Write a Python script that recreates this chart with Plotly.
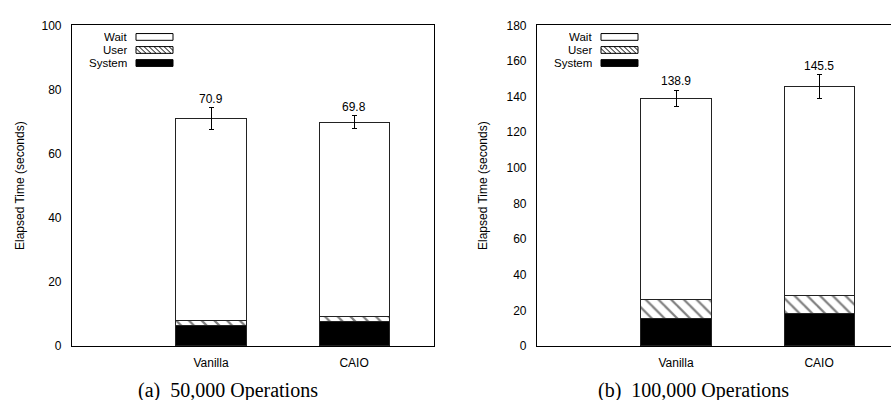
import plotly.graph_objects as go

# Elapsed time breakdown (seconds)
categories = ["Vanilla", "CAIO"]

system_50k = [6.3, 7.6]
user_50k = [1.7, 1.5]
total_50k = [70.9, 69.8]
err_50k = [3.4, 2.0]

system_100k = [15.3, 18.1]
user_100k = [10.6, 10.5]
total_100k = [138.9, 145.5]
err_100k = [4.7, 6.7]

captions = ["(a)  50,000 Operations", "(b)  100,000 Operations"]
y_max = [100, 180]
y_step = [20, 20]

W, H = 891, 408
SANS = "Liberation Sans, Arial, sans-serif"
SERIF = "Liberation Serif, Times New Roman, serif"


def px(x):
    return x / W


def py(y):
    return 1 - y / H


fig = go.Figure()

panels = [
    dict(system=system_50k, user=user_50k, total=total_50k, err=err_50k,
         xa="x", ya="y", xr=(-0.972, 1.559),
         leg_text_x=129, leg_box=(136, 173), cap_x=228),
    dict(system=system_100k, user=user_100k, total=total_100k, err=err_100k,
         xa="x2", ya="y2", xr=(-0.972, 1.503),
         leg_text_x=594, leg_box=(601, 638), cap_x=693),
]

bar_line = dict(color="#222", width=1)
bar_width = 0.49

shapes = []
annotations = []

for i, p in enumerate(panels):
    wait = [round(t - s - u, 2) for t, s, u in zip(p["total"], p["system"], p["user"])]
    common = dict(x=categories, xaxis=p["xa"], yaxis=p["ya"], width=bar_width,
                  showlegend=False, hoverinfo="skip")
    fig.add_trace(go.Bar(y=p["system"], name="System",
                         marker=dict(color="black", line=bar_line), **common))
    fig.add_trace(go.Bar(y=p["user"], name="User",
                         marker=dict(color="white", line=bar_line,
                                     pattern=dict(shape="\\", fgcolor="black",
                                                  bgcolor="white", size=9,
                                                  solidity=0.25)),
                         **common))
    fig.add_trace(go.Bar(y=wait, name="Wait",
                         marker=dict(color="white", line=bar_line),
                         error_y=dict(type="data", array=p["err"], color="black",
                                      thickness=1, width=2.5),
                         **common))

    # total labels above the error bars
    for c, t, e in zip(categories, p["total"], p["err"]):
        annotations.append(dict(x=c, y=t + e, xref=p["xa"], yref=p["ya"],
                                text=f"{t:.1f}", showarrow=False,
                                yanchor="bottom", yshift=0,
                                font=dict(family=SANS, size=12, color="black")))

    # legend (label on the left, key on the right)
    rows = [("Wait", 31), ("User", 44.5), ("System", 58)]
    x0, x1 = p["leg_box"]
    for label, yc in rows:
        annotations.append(dict(x=px(p["leg_text_x"]), y=py(yc), xref="paper",
                                yref="paper", text=label, showarrow=False,
                                xanchor="right", yanchor="middle", height=12,
                                font=dict(family=SANS, size=11.5, color="black")))
        y0, y1 = yc - 3.5, yc + 3.5
        if label == "System":
            shapes.append(dict(type="rect", xref="paper", yref="paper",
                               x0=px(x0), x1=px(x1), y0=py(y1), y1=py(y0),
                               fillcolor="black", line=dict(color="black", width=1)))
        else:
            shapes.append(dict(type="rect", xref="paper", yref="paper",
                               x0=px(x0), x1=px(x1), y0=py(y1), y1=py(y0),
                               fillcolor="white", line=dict(color="black", width=1)))
            if label == "User":
                hh = y1 - y0
                xs = x0 - hh
                while xs < x1:
                    a, b = xs, xs + hh
                    ya0, yb1 = y0, y1
                    if a < x0:
                        ya0 = y0 + (x0 - a)
                        a = x0
                    if b > x1:
                        yb1 = y1 - (b - x1)
                        b = x1
                    shapes.append(dict(type="line", xref="paper", yref="paper",
                                       x0=px(a), y0=py(ya0), x1=px(b), y1=py(yb1),
                                       line=dict(color="black", width=1)))
                    xs += 5

    annotations.append(dict(x=px(p["cap_x"]), y=py(397), xref="paper", yref="paper",
                            text=captions[i], showarrow=False, height=20,
                            xanchor="center", yanchor="middle",
                            font=dict(family=SERIF, size=20, color="black")))

y_dom = [py(351), py(19)]
axis_font = dict(family=SANS, size=12, color="black")

fig.update_layout(
    width=W, height=H,
    margin=dict(l=0, r=0, t=0, b=0),
    paper_bgcolor="white", plot_bgcolor="white",
    barmode="stack",
    shapes=shapes, annotations=annotations,
    xaxis=dict(domain=[px(72), px(434)], range=list(panels[0]["xr"]),
               anchor="y", showline=True, mirror=True, linecolor="black",
               linewidth=1.2, showgrid=False, ticks="", tickfont=axis_font,
               ticklabelstandoff=6, zeroline=False),
    yaxis=dict(domain=y_dom, range=[0, y_max[0]], dtick=y_step[0], anchor="x",
               showline=True, mirror=True, linecolor="black", linewidth=1.2,
               showgrid=False, ticks="", tickfont=axis_font, zeroline=False,
               ticklabelstandoff=7,
               title=dict(text="Elapsed Time (seconds)", standoff=14,
                          font=dict(family=SANS, size=12, color="black"))),
    xaxis2=dict(domain=[px(537), 1.0], range=list(panels[1]["xr"]),
                anchor="y2", showline=True, mirror=True, linecolor="black",
                linewidth=1.2, showgrid=False, ticks="", tickfont=axis_font,
                ticklabelstandoff=6, zeroline=False),
    yaxis2=dict(domain=y_dom, range=[0, y_max[1]], dtick=y_step[1], anchor="x2",
                showline=True, mirror=False, linecolor="black", linewidth=1.2,
                showgrid=False, ticks="", tickfont=axis_font, zeroline=False,
                ticklabelstandoff=7,
                title=dict(text="Elapsed Time (seconds)", standoff=16,
                           font=dict(family=SANS, size=12, color="black"))),
)

fig.write_html("out.html")
